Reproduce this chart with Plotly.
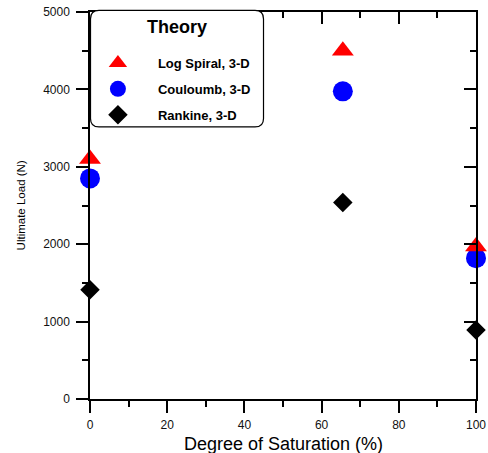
import plotly.graph_objects as go

saturation = [0, 65.5, 100]
log_spiral = [3100, 4500, 1970]
couloumb = [2850, 3975, 1820]
rankine = [1410, 2540, 890]

names = ["Log Spiral, 3-D", "Couloumb, 3-D", "Rankine, 3-D"]
FONT = "Liberation Sans, Arial, Helvetica, sans-serif"

fig = go.Figure()
fig.add_trace(go.Scatter(x=saturation, y=couloumb, mode="markers", name=names[1],
                         legendrank=2, legendgroup="b",
                         marker=dict(symbol="circle", size=20, color="#0000ff", line=dict(width=0)),
                         cliponaxis=False))
fig.add_trace(go.Scatter(x=saturation, y=log_spiral, mode="markers", name=names[0],
                         legendrank=1, legendgroup="a",
                         marker=dict(symbol="triangle-up", size=19, color="#ff0000", line=dict(width=0)),
                         cliponaxis=False))
fig.add_trace(go.Scatter(x=saturation, y=rankine, mode="markers", name=names[2],
                         legendrank=3, legendgroup="c",
                         marker=dict(symbol="diamond", size=15, color="#000000", line=dict(width=0)),
                         cliponaxis=False))
# mirror axes carrier (no data)
fig.add_trace(go.Scatter(x=[], y=[], xaxis="x2", yaxis="y2", showlegend=False, hoverinfo="skip"))

axcommon = dict(showline=True, linecolor="black", linewidth=1.5, showgrid=False, zeroline=False,
                tickcolor="black", tickwidth=1.5, ticklen=12, automargin=False,
                tickfont=dict(family=FONT, size=12, color="#111"))

fig.update_layout(
    template="none",
    width=488, height=453,
    margin=dict(l=90, r=12, t=12, b=54, pad=0, autoexpand=False),
    paper_bgcolor="white", plot_bgcolor="white",
    showlegend=True,
    xaxis=dict(range=[0, 100], dtick=20, ticks="outside", ticklabelstandoff=2,
               minor=dict(dtick=10, ticks="outside", ticklen=6, tickwidth=1.5, tickcolor="black"),
               **axcommon),
    yaxis=dict(range=[0, 5000], dtick=1000, ticks="outside", ticklabelstandoff=4,
               minor=dict(dtick=500, ticks="outside", ticklen=6, tickwidth=1.5, tickcolor="black"),
               **axcommon),
    xaxis2=dict(range=[0, 100], overlaying="x", side="top", matches="x", dtick=20, ticks="inside",
                showticklabels=False,
                minor=dict(dtick=10, ticks="inside", ticklen=6, tickwidth=1.5, tickcolor="black"),
                **axcommon),
    yaxis2=dict(range=[0, 5000], overlaying="y", side="right", matches="y", dtick=1000, ticks="inside",
                showticklabels=False,
                minor=dict(dtick=500, ticks="inside", ticklen=6, tickwidth=1.5, tickcolor="black"),
                **axcommon),
    legend=dict(x=-0.0313, y=0.907, xanchor="left", yanchor="top",
                bgcolor="rgba(0,0,0,0)", borderwidth=0,
                font=dict(family=FONT, size=13, color="black"),
                traceorder="grouped", tracegroupgap=6, itemwidth=70),
)

# axis titles
fig.add_annotation(text="Ultimate Load (N)", textangle=-90, xref="paper", yref="paper",
                   x=-0.179, y=0.5, xanchor="center", yanchor="middle", showarrow=False,
                   font=dict(family=FONT, size=11.5, color="black"))
fig.add_annotation(text="Degree of Saturation (%)", xref="paper", yref="paper",
                   x=0.5, y=-0.1150, xanchor="center", yanchor="middle", showarrow=False,
                   font=dict(family=FONT, size=18, color="black"))
# legend heading
fig.add_annotation(text="<b>Theory</b>", xref="paper", yref="paper",
                   x=0.2254, y=0.961, xanchor="center", yanchor="middle", showarrow=False,
                   font=dict(family=FONT, size=18, color="black"))

# rounded legend frame in paper coords
x0, x1 = 0.0013, 0.4495
y0, y1 = 0.703, 1.004
rx, ry = 0.022, 0.022
path = (f"M {x0+rx},{y1} L {x1-rx},{y1} Q {x1},{y1} {x1},{y1-ry} "
        f"L {x1},{y0+ry} Q {x1},{y0} {x1-rx},{y0} L {x0+rx},{y0} "
        f"Q {x0},{y0} {x0},{y0+ry} L {x0},{y1-ry} Q {x0},{y1} {x0+rx},{y1} Z")
fig.add_shape(type="path", path=path, xref="paper", yref="paper",
              fillcolor="white", line=dict(color="black", width=1.2), layer="above")

fig.for_each_trace(lambda t: t.update(name=f"<b>{t.name}</b>") if t.name else None)

fig.write_html("out.html", config={"displayModeBar": False},
               post_script="document.body.style.margin='0';document.body.style.overflow='hidden';")
